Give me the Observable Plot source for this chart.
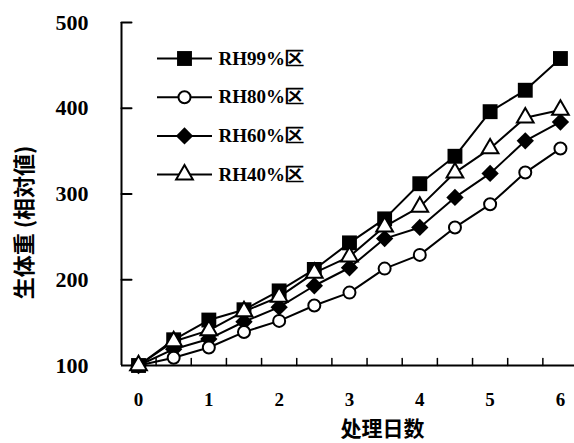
<!DOCTYPE html>
<html><head><meta charset="utf-8">
<script src="https://cdn.jsdelivr.net/npm/d3@7"></script>
<script src="https://cdn.jsdelivr.net/npm/@observablehq/plot@0.6"></script>
<style>body{margin:0;background:#fff} #chart svg{display:block}</style>
</head><body><div id="chart"></div>
<script>
// ---- data ----
const days = [0, 0.5, 1, 1.5, 2, 2.5, 3, 3.5, 4, 4.5, 5, 5.5, 6];
const rh99 = [100, 130, 153, 165, 187, 212, 243, 271, 312, 344, 396, 421, 458];
const rh80 = [100, 109, 121, 139, 152, 170, 185, 213, 229, 261, 288, 325, 353];
const rh60 = [100, 119, 131, 151, 168, 193, 214, 248, 261, 296, 324, 362, 384];
const rh40 = [100, 128, 141, 163, 180, 208, 227, 262, 285, 325, 353, 389, 398];
const seriesNames = ["RH99%区", "RH80%区", "RH60%区", "RH40%区"];
const yTicks = [100, 200, 300, 400, 500];
const xTicks = [0, 1, 2, 3, 4, 5, 6];
const xMinorTicks = [0.25, 0.75, 1.25, 1.75, 2.25, 2.75, 3.25, 3.75, 4.25, 4.75, 5.25, 5.75];
const xLabel = "处理日数";
const yLabel = "生体重 (相対値)";

// ---- layout / styles ----
const W = 574, H = 443;
const mL = 121, mR = 0, mT = 22, mB = 78;
const xDomain = [-0.242, 6.2];
const yDomain = [100, 500];
const X = d3.scaleLinear(xDomain, [mL, W - mR]);
const Y = d3.scaleLinear(yDomain, [H - mB, mT]);
const styles = {
  "RH99%区": {symbol: "square", fill: "black", stroke: "none", r: 8.4, strokeWidth: 0},
  "RH80%区": {symbol: "circle", fill: "white", stroke: "black", r: 6, strokeWidth: 2},
  "RH60%区": {symbol: "diamond2", fill: "black", stroke: "none", r: 7.8, strokeWidth: 0},
  "RH40%区": {symbol: "triangle", fill: "white", stroke: "black", r: 6.2, strokeWidth: 2}
};
const valuesBySeries = {"RH99%区": rh99, "RH80%区": rh80, "RH60%区": rh60, "RH40%区": rh40};
const table = seriesNames.flatMap(s => days.map((d, i) => ({series: s, day: d, value: valuesBySeries[s][i]})));
const drawOrder = ["RH99%区", "RH60%区", "RH80%区", "RH40%区"];

const numFont = "Liberation Serif, DejaVu Serif, serif";
const cjkFont = "Noto Sans CJK SC, Noto Sans CJK JP, sans-serif";
const tickShape = {draw(ctx, l) { ctx.moveTo(0, 0); ctx.lineTo(0, -l); }};

// legend layout in pixels -> data units
const legRow0 = 58, legStep = 38.7;
const legend = seriesNames.map((s, i) => ({
  series: s,
  y: Y.invert(legRow0 + legStep * i),
  x1: X.invert(157), x2: X.invert(212), xm: X.invert(184), xt: X.invert(218)
}));
const yTitlePos = [{text: yLabel, x: X.invert(24), y: Y.invert(222)}];
const xTitlePos = [{text: xLabel, x: X.invert(382), y: Y.invert(429)}];

const marks = [
  // axis lines
  Plot.ruleX([xDomain[0]], {stroke: "black", strokeWidth: 2}),
  Plot.ruleY([yDomain[0]], {stroke: "black", strokeWidth: 2}),
  // inward ticks
  Plot.vector(yTicks.slice(1), {x: xDomain[0], y: d => d, length: 10, rotate: 90, anchor: "start", shape: tickShape, stroke: "black", strokeWidth: 2}),
  Plot.vector(xMinorTicks, {x: d => d, y: yDomain[0], length: 7, rotate: 0, anchor: "start", shape: tickShape, stroke: "black", strokeWidth: 1.5}),
  // tick labels
  Plot.axisY({ticks: yTicks, tickSize: 0, tickPadding: 33, label: null, fontSize: 22, fontWeight: "bold", fontFamily: numFont, fill: "black"}),
  Plot.axisX({ticks: xTicks, tickSize: 0, tickPadding: 27, label: null, fontSize: 19, fontWeight: "bold", fontFamily: numFont, fill: "black", tickFormat: d => String(d)}),
  // axis titles
  Plot.text(xTitlePos, {x: "x", y: "y", text: "text", fontSize: 21, fontWeight: "bold", fontFamily: cjkFont, fill: "black", letterSpacing: 2}),
  Plot.text(yTitlePos, {x: "x", y: "y", rotate: -90, text: "text", fontSize: 22, fontWeight: "bold", fontFamily: cjkFont, fill: "black", letterSpacing: 3.5}),
  // data lines
  Plot.line(table, {x: "day", y: "value", z: "series", stroke: "black", strokeWidth: 2}),
  // legend lines
  Plot.ruleY(legend, {y: "y", x1: "x1", x2: "x2", stroke: "black", strokeWidth: 2}),
  // legend text
  Plot.text(legend, {x: "xt", y: "y", text: "series", textAnchor: "start", fontSize: 19, fontFamily: numFont, fontWeight: "bold", fill: "black"})
];
for (const s of drawOrder) {
  const st = styles[s];
  marks.push(Plot.dot(table.filter(d => d.series === s), {x: "day", y: "value", symbol: () => st.symbol, r: st.r, fill: st.fill, stroke: st.stroke, strokeWidth: st.strokeWidth}));
  marks.push(Plot.dot(legend.filter(d => d.series === s), {x: "xm", y: "y", symbol: () => st.symbol, r: st.r, fill: st.fill, stroke: st.stroke, strokeWidth: st.strokeWidth}));
}

const chart = Plot.plot({
  width: W, height: H,
  marginLeft: mL, marginRight: mR, marginTop: mT, marginBottom: mB,
  x: {domain: xDomain, axis: null},
  y: {domain: yDomain, axis: null},
  symbol: {type: "identity"},
  style: {background: "white", overflow: "visible"},
  marks
});
document.getElementById("chart").appendChild(chart);
</script>
</body></html>
